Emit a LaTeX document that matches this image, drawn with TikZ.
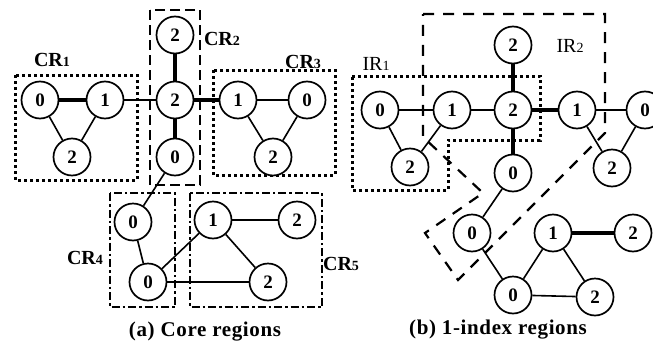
\documentclass[tikz,border=0pt]{standalone}
\usepackage{fontspec}
\setmainfont{Liberation Serif}
\newfontfamily\capfont[LetterSpace=3]{Liberation Serif}
\begin{document}
\begin{tikzpicture}[x=1pt,y=-1pt,
  vtx/.style={circle,draw,line width=1.7pt,minimum size=37pt,inner sep=0pt,fill=white,
    font=\bfseries\fontsize{19}{19}\selectfont},
  thin edge/.style={line width=1.6pt},
  thick edge/.style={line width=3.6pt},
  dotbox/.style={line width=3pt,dash pattern=on 3pt off 3pt},
  dashbox/.style={line width=2.8pt,dash pattern=on 10pt off 5pt},
  dashdotbox/.style={line width=2.8pt,dash pattern=on 8pt off 3pt on 2.5pt off 3pt},
  irbox/.style={line width=2.2pt,dash pattern=on 11pt off 9pt},
  lab/.style={font=\bfseries\fontsize{20}{20}\selectfont,inner sep=0pt},
  ilab/.style={font=\fontsize{20}{20}\selectfont,inner sep=0pt},
  captext/.style={font=\capfont\bfseries\fontsize{21}{21}\selectfont,inner sep=0pt}]
\useasboundingbox (0,0) rectangle (653,343);
\newcommand{\smd}[1]{{\fontsize{14}{14}\selectfont #1}}
% ---------- (a) boxes ----------
\draw[dotbox] (15,75) rectangle (137,180);
\draw[dashbox] (150,10) rectangle (200,185);
\draw[dotbox] (213,70) rectangle (335,175);
\draw[dashdotbox] (110,193) rectangle (175,307);
\draw[dashdotbox] (190,193) rectangle (322,307);
% ---------- (b) boxes ----------
\draw[dotbox] (352,76) -- (540,76) -- (540,140) -- (448,140) -- (448,190) -- (352,190) -- cycle;
\draw[irbox] (423,14) -- (605,14) -- (605,133) -- (458,280) -- (425,233) -- (483,193) -- (423,137) -- cycle;
% ---------- (a) nodes ----------
\node[vtx] (a0) at (40,100) {0};
\node[vtx] (a1) at (105,100) {1};
\node[vtx] (a2) at (72,157) {2};
\node[vtx] (ac) at (175,100) {2};
\node[vtx] (at) at (175,35) {2};
\node[vtx] (ab) at (175,157) {0};
\node[vtx] (c1) at (238,100) {1};
\node[vtx] (c0) at (307,100) {0};
\node[vtx] (c2) at (273,157) {2};
\node[vtx] (d0) at (133,222) {0};
\node[vtx] (d1) at (148,282) {0};
\node[vtx] (e1) at (213,220) {1};
\node[vtx] (e2) at (297,220) {2};
\node[vtx] (e3) at (268,282) {2};
% ---------- (a) edges ----------
\draw[thick edge] (a0) -- (a1);
\draw[thin edge] (a0) -- (a2);
\draw[thin edge] (a1) -- (a2);
\draw[thin edge] (a1) -- (ac);
\draw[thick edge] (ac) -- (at);
\draw[thick edge] (ac) -- (ab);
\draw[thick edge] (ac) -- (c1);
\draw[thin edge] (c1) -- (c0);
\draw[thin edge] (c1) -- (c2);
\draw[thin edge] (c0) -- (c2);
\draw[thin edge] (ab) -- (d0);
\draw[thin edge] (d0) -- (d1);
\draw[thin edge] (d1) -- (e1);
\draw[thin edge] (d1) -- (e3);
\draw[thin edge] (e1) -- (e2);
\draw[thin edge] (e1) -- (e3);
% ---------- (b) nodes ----------
\node[vtx] (b0) at (380,110) {0};
\node[vtx] (b1) at (452,110) {1};
\node[vtx] (b2) at (410,167) {2};
\node[vtx] (bc) at (513,110) {2};
\node[vtx] (bt) at (513,45) {2};
\node[vtx] (bb) at (513,173) {0};
\node[vtx] (f1) at (577,110) {1};
\node[vtx] (f0) at (645,110) {0};
\node[vtx] (f2) at (612,168) {2};
\node[vtx] (g0) at (472,233) {0};
\node[vtx] (g1) at (553,233) {1};
\node[vtx] (g2) at (633,233) {2};
\node[vtx] (h0) at (513,295) {0};
\node[vtx] (h2) at (595,297) {2};
% ---------- (b) edges ----------
\draw[thin edge] (b0) -- (b1);
\draw[thin edge] (b0) -- (b2);
\draw[thin edge] (b1) -- (b2);
\draw[thin edge] (b1) -- (bc);
\draw[thick edge] (bc) -- (bt);
\draw[thick edge] (bc) -- (f1);
\draw[thick edge] (bc) -- (bb);
\draw[thin edge] (f1) -- (f0);
\draw[thin edge] (f1) -- (f2);
\draw[thin edge] (f0) -- (f2);
\draw[thin edge] (bb) -- (g0);
\draw[thin edge] (g0) -- (h0);
\draw[thin edge] (h0) -- (g1);
\draw[thin edge] (h0) -- (h2);
\draw[thick edge] (g1) -- (g2);
\draw[thin edge] (g1) -- (h2);
% ---------- labels ----------
\node[lab] (lcr1) at (52,60) {CR\smd{1}};
\node[lab] (lcr2) at (222,39) {CR\smd{2}};
\node[lab] (lcr3) at (303,62) {CR\smd{3}};
\node[lab] (lcr4) at (85,258) {CR\smd{4}};
\node[lab] (lcr5) at (341,264) {CR\smd{5}};
\node[ilab] (lir1) at (376,64) {IR\smd{1}};
\node[ilab] (lir2) at (570,46) {IR\smd{2}};
\node[captext] (capa) at (205,332) {(a) Core regions};
\node[captext] (capb) at (498,330) {(b) 1-index regions};
\end{tikzpicture}
\end{document}
